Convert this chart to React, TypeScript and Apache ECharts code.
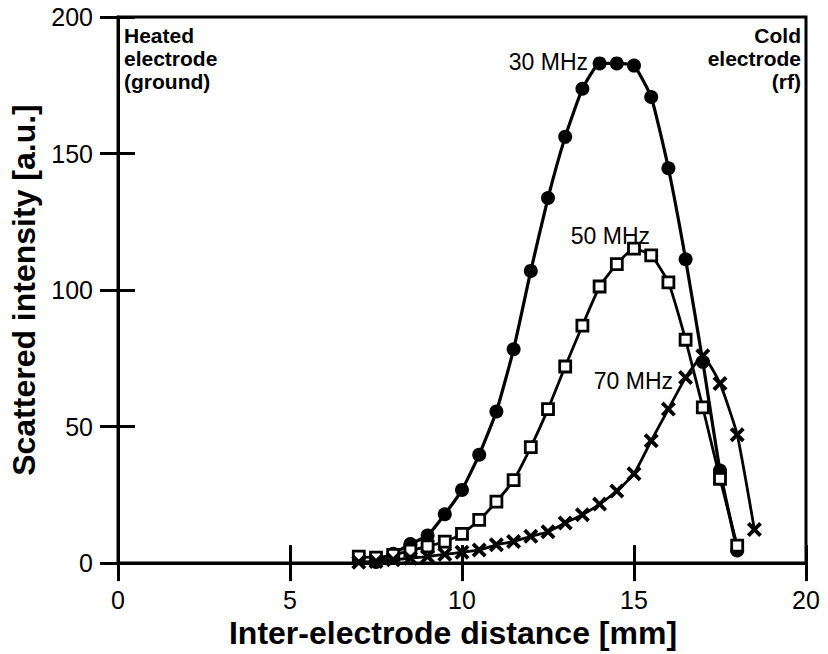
import React, { useEffect, useRef } from "react";
import * as echarts from "echarts";

// Inter-electrode distance [mm] for each series
const dist30 = [7.5, 8, 8.5, 9, 9.5, 10, 10.5, 11, 11.5, 12, 12.5, 13, 13.5, 14, 14.5, 15, 15.5, 16, 16.5, 17, 17.5, 18];
const int30 = [0.4, 3.4, 7.0, 10.1, 17.9, 26.8, 39.7, 55.5, 78.3, 107, 133.7, 156.1, 173.7, 183, 183, 182.2, 170.7, 144.6, 111.3, 73.7, 33.9, 4.6];

const dist50 = [7, 7.5, 8, 8.5, 9, 9.5, 10, 10.5, 11, 11.5, 12, 12.5, 13, 13.5, 14, 14.5, 15, 15.5, 16, 16.5, 17, 17.5, 18];
const int50 = [2.4, 2.0, 3.0, 4.6, 6.1, 7.9, 10.7, 15.8, 22.5, 30.4, 42.5, 56.4, 72, 87, 101.3, 109.5, 115.2, 112.7, 102.8, 81.8, 57, 30.9, 6.4];

const dist70 = [7, 7.5, 8, 8.5, 9, 9.5, 10, 10.5, 11, 11.5, 12, 12.5, 13, 13.5, 14, 14.5, 15, 15.5, 16, 16.5, 17, 17.5, 18, 18.5];
const int70 = [0.3, 0.6, 1.2, 1.8, 2.4, 3.2, 4, 4.8, 6.7, 7.9, 9.8, 11.5, 14.7, 17.7, 21.6, 26.4, 32.7, 44.8, 56.4, 68, 75.9, 65.8, 47, 12.3];

const seriesNames = ["30 MHz", "50 MHz", "70 MHz"];
const xTitle = "Inter-electrode distance [mm]";
const yTitle = "Scattered intensity [a.u.]";
const leftNote = "Heated\nelectrode\n(ground)";
const rightNote = "Cold\nelectrode\n(rf)";

const FONT = "'Liberation Sans', Arial, Helvetica, sans-serif";
const CROSS = "path://M0,1.8 L1.8,0 L5,3.2 L8.2,0 L10,1.8 L6.8,5 L10,8.2 L8.2,10 L5,6.8 L1.8,10 L0,8.2 L3.2,5 Z";

const pairs = (xs: number[], ys: number[]) => xs.map((x, i) => [x, ys[i]]);

export default function App() {
  const ref = useRef<HTMLDivElement>(null);
  useEffect(() => {
    document.body.style.margin = "0";
    if (!ref.current) return;
    const chart = echarts.init(ref.current, null, { renderer: "svg" });
    const axisLine = { show: true, lineStyle: { color: "#000", width: 3 } };
    const tickStyle = { color: "#000", width: 3 };
    const xBase = { type: "value", min: 0, max: 20, interval: 5, splitLine: { show: false } };
    const yBase = { type: "value", min: 0, max: 200, interval: 50, splitLine: { show: false } };
    chart.setOption({
      animation: false,
      backgroundColor: "#fff",
      grid: { left: 118, right: 22, top: 17, bottom: 88, show: true, borderColor: "#000", borderWidth: 3, backgroundColor: "transparent" },
      xAxis: [
        {
          ...xBase,
          position: "bottom",
          axisLine,
          axisTick: { show: true, inside: false, length: 18, lineStyle: tickStyle },
          axisLabel: { show: true, margin: 24, color: "#000", fontSize: 25, fontFamily: FONT },
          name: xTitle,
          nameLocation: "middle",
          nameGap: 46,
          nameTextStyle: { color: "#000", fontSize: 32, fontWeight: "bold", fontFamily: FONT, padding: [0, 18, 0, 0] },
        },
        {
          ...xBase,
          position: "bottom",
          axisLine: { show: false },
          axisTick: { show: true, inside: true, length: 18, lineStyle: tickStyle },
          axisLabel: { show: false },
        },
      ],
      yAxis: [
        {
          ...yBase,
          position: "left",
          axisLine,
          axisTick: { show: true, inside: false, length: 18, lineStyle: tickStyle },
          axisLabel: { show: true, margin: 25, color: "#000", fontSize: 25, fontFamily: FONT },
          name: yTitle,
          nameLocation: "middle",
          nameGap: 70,
          nameTextStyle: { color: "#000", fontSize: 32, fontWeight: "bold", fontFamily: FONT, padding: [0, 0, 0, 0] },
        },
        {
          ...yBase,
          position: "left",
          axisLine: { show: false },
          axisTick: { show: true, inside: true, length: 17, lineStyle: tickStyle },
          axisLabel: { show: false },
        },
      ],
      series: [
        {
          name: seriesNames[0],
          type: "line",
          data: pairs(dist30, int30),
          symbol: "circle",
          symbolSize: 14,
          smooth: 0.15,
          lineStyle: { color: "#000", width: 3.2 },
          itemStyle: { color: "#000" },
          z: 3,
        },
        {
          name: seriesNames[1],
          type: "line",
          data: pairs(dist50, int50),
          symbol: "rect",
          symbolSize: 11,
          smooth: 0.15,
          lineStyle: { color: "#000", width: 2.8 },
          itemStyle: { color: "#fff", borderColor: "#000", borderWidth: 2.8 },
          z: 4,
        },
        {
          name: seriesNames[2],
          type: "line",
          data: pairs(dist70, int70),
          symbol: CROSS,
          symbolSize: 15,
          smooth: 0.15,
          lineStyle: { color: "#000", width: 2.8 },
          itemStyle: { color: "#000" },
          z: 5,
        },
      ],
      graphic: [
        { type: "text", x: 588, y: 62, style: { text: seriesNames[0], fill: "#000", fontSize: 23, fontFamily: FONT, textAlign: "right", textVerticalAlign: "middle" } },
        { type: "text", x: 650, y: 236, style: { text: seriesNames[1], fill: "#000", fontSize: 23, fontFamily: FONT, textAlign: "right", textVerticalAlign: "middle" } },
        { type: "text", x: 673, y: 381, style: { text: seriesNames[2], fill: "#000", fontSize: 23, fontFamily: FONT, textAlign: "right", textVerticalAlign: "middle" } },
        { type: "text", x: 124, y: 24, style: { text: leftNote, fill: "#000", fontSize: 21, fontWeight: "bold", lineHeight: 23, fontFamily: FONT, textAlign: "left", textVerticalAlign: "top" } },
        { type: "text", x: 801, y: 24, style: { text: rightNote, fill: "#000", fontSize: 21, fontWeight: "bold", lineHeight: 23, fontFamily: FONT, textAlign: "right", textVerticalAlign: "top" } },
      ],
    });
    return () => chart.dispose();
  }, []);
  return <div ref={ref} style={{ width: 828, height: 654 }} />;
}
